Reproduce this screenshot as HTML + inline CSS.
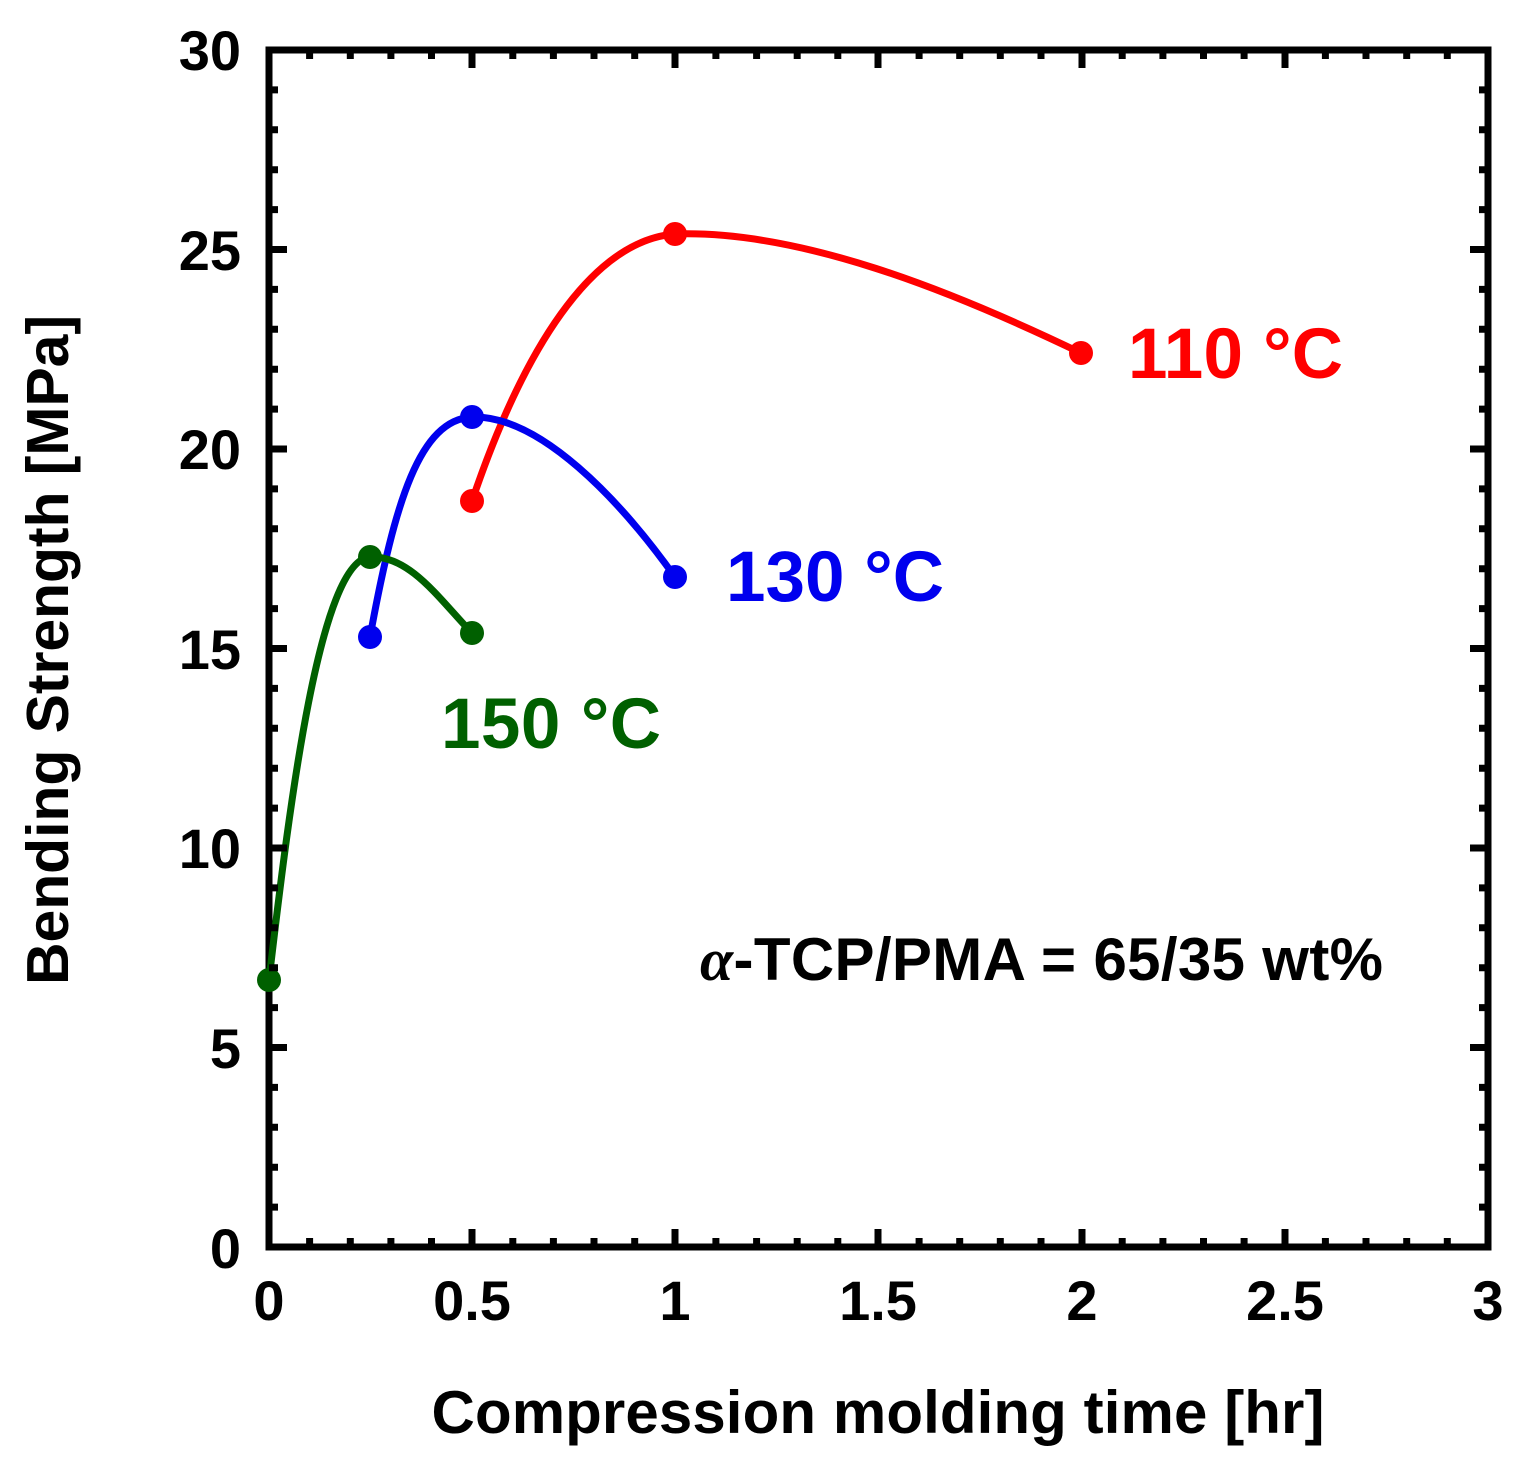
<!DOCTYPE html>
<html><head><style>body{margin:0;background:#fff}</style></head><body>
<svg width="1525" height="1466" xmlns="http://www.w3.org/2000/svg" font-family="Liberation Sans, sans-serif" font-weight="bold">
<rect width="1525" height="1466" fill="#fff"/>
<rect x="269" y="50" width="1219" height="1197" fill="none" stroke="#000" stroke-width="7"/>
<g fill="none" stroke-width="7" stroke-linecap="round">
<path d="M472,501 C530,330 600,240 675,234 C800,230 950,290 1081,353" stroke="#ff0000"/>
<path d="M370,637 C395,500 420,420 472,417 C540,415 620,500 675,577" stroke="#0000ee"/>
<path d="M269,980 C290,800 320,560 370,557 C410,555 440,600 472,633" stroke="#006000"/>
</g>
<g fill="#ff0000"><circle cx="472" cy="501" r="12"/><circle cx="675" cy="234" r="12"/><circle cx="1081" cy="353" r="12"/></g>
<g fill="#0000ee"><circle cx="370" cy="637" r="12"/><circle cx="472" cy="417" r="12"/><circle cx="675" cy="577" r="12"/></g>
<g fill="#006000"><circle cx="269" cy="980" r="12"/><circle cx="370" cy="557" r="12"/><circle cx="472" cy="633" r="12"/></g>
<text x="1128" y="378" font-size="71" fill="#ff0000" textLength="215">110 °C</text>
<text x="726" y="601" font-size="71" fill="#0000ee" textLength="218">130 °C</text>
<text x="441" y="748" font-size="71" fill="#006000" textLength="220">150 °C</text>
<text x="700" y="980" font-size="60" textLength="683"><tspan font-family="Liberation Serif, serif" font-style="italic">α</tspan>-TCP/PMA = 65/35 wt%</text>
<g font-size="56" text-anchor="end">
<text x="241" y="1268">0</text><text x="241" y="1068">5</text><text x="241" y="868">10</text><text x="241" y="669">15</text><text x="241" y="469">20</text><text x="241" y="270">25</text><text x="241" y="70">30</text>
</g>
<g font-size="56" text-anchor="middle">
<text x="269" y="1320">0</text><text x="472" y="1320">0.5</text><text x="675" y="1320">1</text><text x="878" y="1320">1.5</text><text x="1082" y="1320">2</text><text x="1285" y="1320">2.5</text><text x="1488" y="1320">3</text>
</g>
<text x="878" y="1433" font-size="60" text-anchor="middle" textLength="893">Compression molding time [hr]</text>
<text transform="translate(68,650) rotate(-90)" font-size="59" text-anchor="middle" textLength="670">Bending Strength [MPa]</text>
<path stroke="#000" stroke-width="7" d="
M309.6,1247v-9M350.3,1247v-9M390.9,1247v-9M431.5,1247v-9M472,1247v-18M512.8,1247v-9M553.4,1247v-9M594,1247v-9M634.7,1247v-9M675,1247v-18M715.9,1247v-9M756.6,1247v-9M797.2,1247v-9M837.8,1247v-9M878,1247v-18M919.1,1247v-9M959.7,1247v-9M1000.3,1247v-9M1041,1247v-9M1082,1247v-18M1122.2,1247v-9M1162.9,1247v-9M1203.5,1247v-9M1244.1,1247v-9M1285,1247v-18M1325.4,1247v-9M1366,1247v-9M1406.7,1247v-9M1447.3,1247v-9
M309.6,50v9M350.3,50v9M390.9,50v9M431.5,50v9M472,50v18M512.8,50v9M553.4,50v9M594,50v9M634.7,50v9M675,50v18M715.9,50v9M756.6,50v9M797.2,50v9M837.8,50v9M878,50v18M919.1,50v9M959.7,50v9M1000.3,50v9M1041,50v9M1082,50v18M1122.2,50v9M1162.9,50v9M1203.5,50v9M1244.1,50v9M1285,50v18M1325.4,50v9M1366,50v9M1406.7,50v9M1447.3,50v9"/>
<path stroke="#000" stroke-width="7" d="
M269,1207.1h9M269,1167.2h9M269,1127.3h9M269,1087.4h9M269,1047.5h18M269,1007.6h9M269,967.7h9M269,927.8h9M269,887.9h9M269,848h18M269,808.1h9M269,768.2h9M269,728.3h9M269,688.4h9M269,648.5h18M269,608.6h9M269,568.7h9M269,528.8h9M269,488.9h9M269,449h18M269,409.1h9M269,369.2h9M269,329.3h9M269,289.4h9M269,249.5h18M269,209.6h9M269,169.7h9M269,129.8h9M269,89.9h9
M1488,1207.1h-9M1488,1167.2h-9M1488,1127.3h-9M1488,1087.4h-9M1488,1047.5h-18M1488,1007.6h-9M1488,967.7h-9M1488,927.8h-9M1488,887.9h-9M1488,848h-18M1488,808.1h-9M1488,768.2h-9M1488,728.3h-9M1488,688.4h-9M1488,648.5h-18M1488,608.6h-9M1488,568.7h-9M1488,528.8h-9M1488,488.9h-9M1488,449h-18M1488,409.1h-9M1488,369.2h-9M1488,329.3h-9M1488,289.4h-9M1488,249.5h-18M1488,209.6h-9M1488,169.7h-9M1488,129.8h-9M1488,89.9h-9"/>
</svg>
</body></html>
